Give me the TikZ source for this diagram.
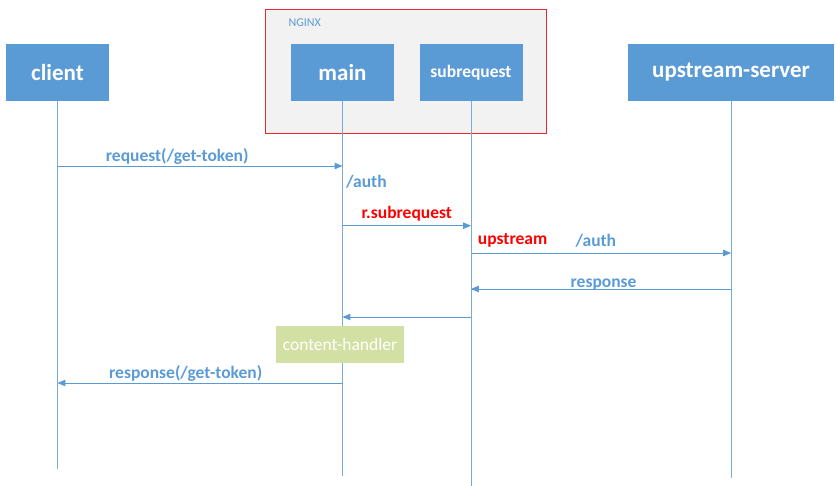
\documentclass[tikz,border=0pt]{standalone}
\usepackage{fontspec}
\setmainfont{Carlito}
\usepackage{xcolor}
\usepackage{tikz}
\usetikzlibrary{shapes,arrows}
\usetikzlibrary{positioning}
\definecolor{boxblue}{RGB}{91,155,213}
\definecolor{lifeblue}{RGB}{120,170,218}
\definecolor{nginxred}{RGB}{232,40,45}
\definecolor{nginxgray}{RGB}{242,242,242}
\definecolor{handlergreen}{RGB}{211,224,164}
\tikzstyle{actor} = [rectangle, fill=boxblue, text=white, inner sep=0pt,
    font=\bfseries\fontsize{23}{26}\selectfont, minimum width=103pt, minimum height=57pt]
\tikzstyle{frame} = [rectangle, draw=nginxred, fill=nginxgray, line width=0.8pt,
    minimum width=281pt, minimum height=124pt]
\tikzstyle{handler} = [rectangle, fill=handlergreen, text=white,
    font=\fontsize{17.5}{20}\selectfont, minimum width=128pt, minimum height=37pt]
\tikzstyle{hop} = [coordinate]
\tikzstyle{edge} = [draw=lifeblue, line width=0.8pt, -]
\tikzstyle{line} = [draw=boxblue, line width=0.8pt, -triangle 45]
\tikzstyle{msg} = [text=boxblue, font=\bfseries\fontsize{17.5}{20}\selectfont]
\tikzstyle{hot} = [text=red, font=\bfseries\fontsize{17.5}{20}\selectfont]

\begin{document}
\begin{tikzpicture}[node distance = 2cm, auto]
  \useasboundingbox (0,0) rectangle (836pt,-486pt);
  % NGINX frame
  \node [frame] (nginx) at (405.5pt,-71pt) {};
  \node [anchor=west, text=boxblue, font=\fontsize{12}{14}\selectfont] (nginxlabel)
    at (285pt,-23pt) {NGINX};

  % Place nodes
  \node [actor] (client) at (57.5pt,-72.5pt) {client};
  \node [actor, right of=client, node distance=285pt] (main) {main};
  \node [actor, right of=main, node distance=128.5pt,
    font=\bfseries\fontsize{17.5}{20}\selectfont] (sub) {subrequest};
  \node [actor, right of=sub, node distance=260pt, minimum width=206pt] (server) {upstream-server};

  \node [hop, below of=client, node distance=93.5pt] (c1) {};
  \node [hop, below of=main, node distance=93.5pt] (m1) {};
  \path [line] (c1) -- node [msg, above, pos=0.42, yshift=-2pt] (req) {request(/get-token)} (m1);
  \node [msg, anchor=west] (auth1) at ([xshift=0pt,yshift=-16pt]m1) {/auth};
  \path [edge] (client) -- (c1);
  \path [edge] (main) -- (m1);

  \node [hop, below of=main, node distance=153.2pt] (m2) {};
  \node [hop, below of=sub, node distance=153.2pt] (s2) {};
  \path [line] (m2) -- node [hot, above, yshift=1pt] (rsub) {r.subrequest} (s2);
  \path [edge] (m1) -- (m2);
  \path [edge] (sub) -- (s2);

  \node [hop, below of=sub, node distance=180.5pt] (s3) {};
  \node [hop, below of=server, node distance=180.5pt] (u3) {};
  \path [line] (s3) -- node [hot, above, pos=0.16, yshift=2pt] (ups) {upstream}
    node [msg, above, pos=0.48, yshift=2pt] (auth2) {/auth} (u3);
  \path [edge] (s2) -- (s3);
  \path [edge] (server) -- (u3);

  \node [hop, below of=server, node distance=216.5pt] (u4) {};
  \node [hop, below of=sub, node distance=216.5pt] (s4) {};
  \path [line] (u4) -- node [msg, above, pos=0.49, yshift=-5pt] (resp) {response} (s4);
  \path [edge] (u3) -- (u4);
  \path [edge] (s3) -- (s4);

  \node [hop, below of=sub, node distance=244.5pt] (s5) {};
  \node [hop, below of=main, node distance=244.5pt] (m5) {};
  \path [line] (s5) -- (m5);
  \path [edge] (s4) -- (s5);
  \path [edge] (m2) -- (m5);

  \node [hop, below of=main, node distance=310.5pt] (m6) {};
  \node [hop, below of=client, node distance=310.5pt] (c6) {};
  \path [line] (m6) -- node [msg, above, pos=0.55, yshift=-2pt] (resp2) {response(/get-token)} (c6);
  \path [edge] (m5) -- (m6);
  \path [edge] (c1) -- (c6);

  % lifeline ends
  \node [hop, below of=client, node distance=396.5pt] (c7) {};
  \node [hop, below of=main, node distance=403.5pt] (m7) {};
  \node [hop, below of=sub, node distance=413.5pt] (s7) {};
  \node [hop, below of=server, node distance=405.5pt] (u7) {};
  \path [edge] (c6) -- (c7);
  \path [edge] (m6) -- (m7);
  \path [edge] (s5) -- (s7);
  \path [edge] (u4) -- (u7);

  \node [handler, below of=main, node distance=272pt, xshift=-2.5pt] (handler) {content-handler};
\end{tikzpicture}
\end{document}
